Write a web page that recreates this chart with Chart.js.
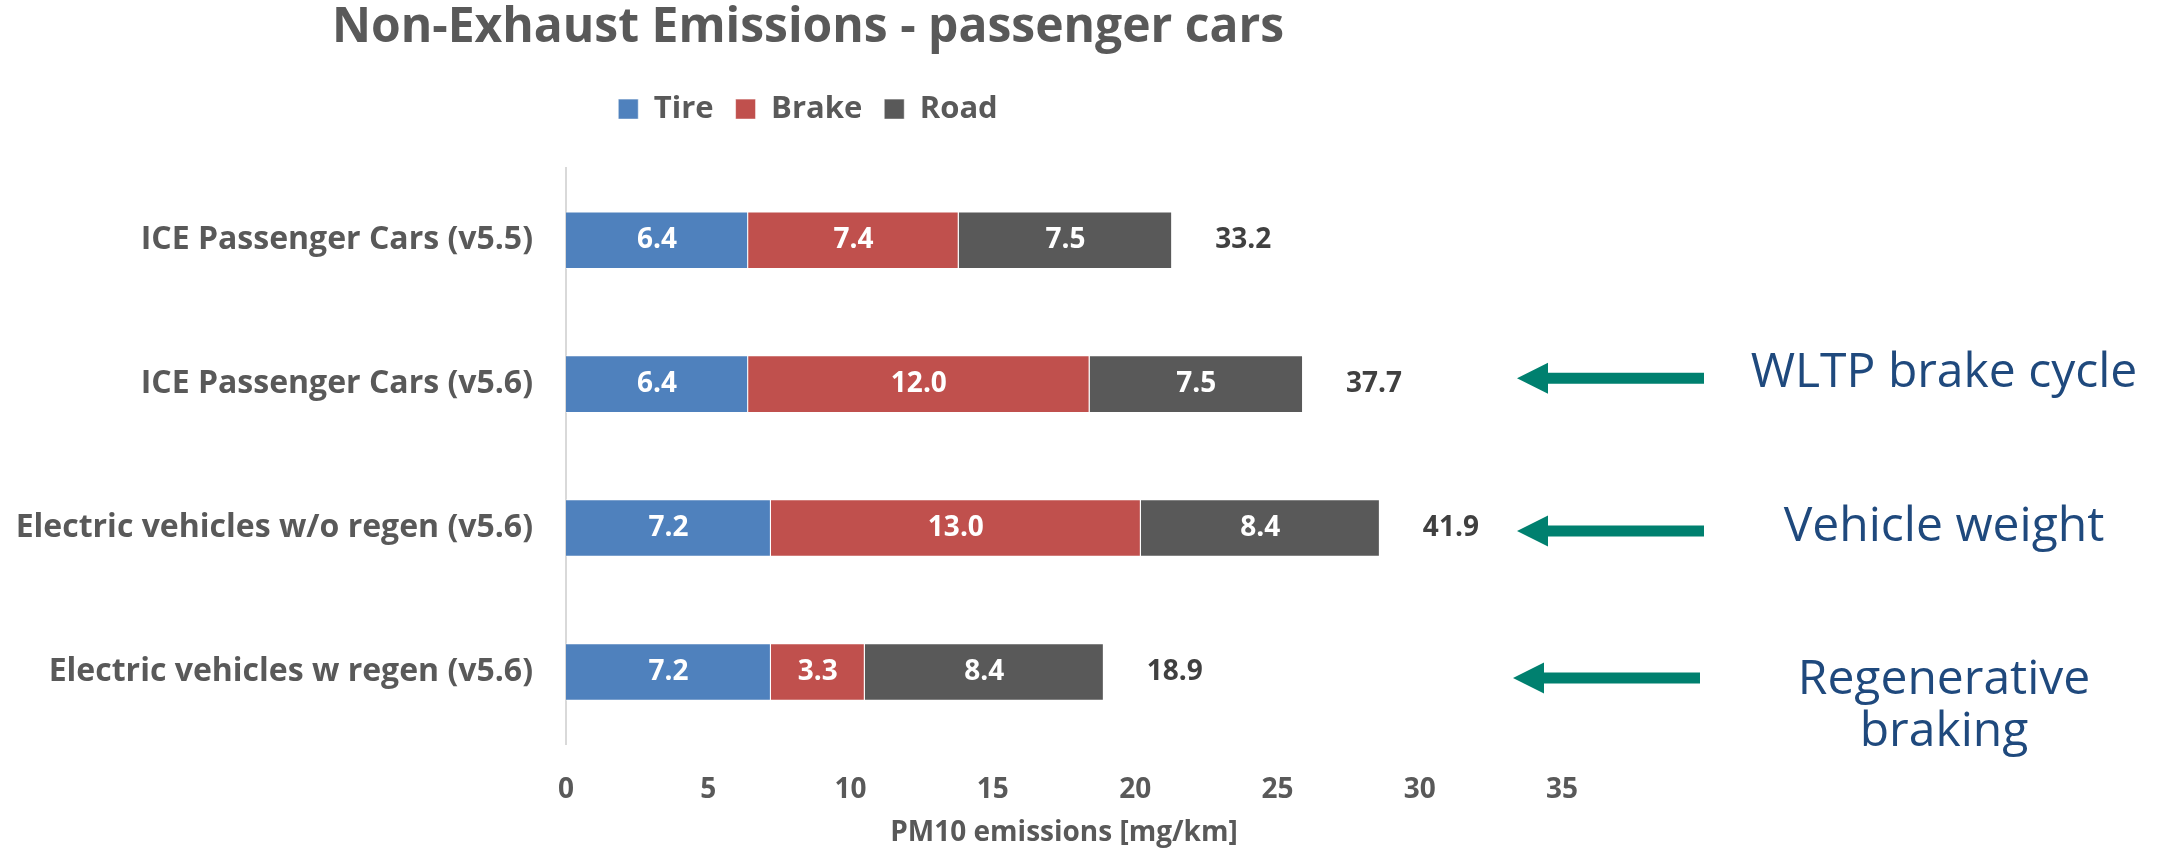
<!DOCTYPE html>
<html>
<head>
<meta charset="utf-8">
<title>Non-Exhaust Emissions - passenger cars</title>
<script src="https://cdn.jsdelivr.net/npm/chart.js@4.4.1/dist/chart.umd.min.js"></script>
<style>
  html, body { margin: 0; padding: 0; background: #ffffff; }
  #wrap { width: 2160px; height: 850px; position: relative; }
</style>
</head>
<body>
<div id="wrap"><canvas id="chart"></canvas></div>
<script>
// Vehicle groups (rows of the chart, top to bottom)
const categories = [
  'ICE Passenger Cars (v5.5)',
  'ICE Passenger Cars (v5.6)',
  'Electric vehicles w/o regen (v5.6)',
  'Electric vehicles w regen (v5.6)'
];

// PM10 emissions per source [mg/km]
const tire  = [6.4, 6.4, 7.2, 7.2];
const brake = [7.4, 12.0, 13.0, 3.3];
const road  = [7.5, 7.5, 8.4, 8.4];

// Totals printed to the right of each bar
const totalLabels = ['33.2', '37.7', '41.9', '18.9'];

// X axis tick values
const xTicks = [0, 5, 10, 15, 20, 25, 30, 35];

// Explanatory notes pointing at rows
const noteRows  = [1, 2, 3];
const noteTexts = [['WLTP brake cycle'], ['Vehicle weight'], ['Regenerative', 'braking']];

const FONT = "'Open Sans', sans-serif";
const GREY = '#595959';

// Value labels inside each segment and totals after each bar
const valueLabels = {
  id: 'valueLabels',
  afterDatasetsDraw(chart) {
    const ctx = chart.ctx;
    ctx.save();
    ctx.font = "bold 28px " + FONT;
    ctx.textBaseline = 'middle';
    ctx.textAlign = 'center';
    ctx.fillStyle = '#ffffff';
    chart.data.datasets.forEach((ds, di) => {
      chart.getDatasetMeta(di).data.forEach((bar, i) => {
        ctx.fillText(ds.data[i].toFixed(1), (bar.x + bar.base) / 2, bar.y);
      });
    });
    const last = chart.getDatasetMeta(chart.data.datasets.length - 1);
    ctx.fillStyle = '#404040';
    ctx.textAlign = 'left';
    last.data.forEach((bar, i) => {
      ctx.fillText(totalLabels[i], bar.x + 43, bar.y);
    });
    ctx.restore();
  }
};

// Arrows and notes on the right-hand side
const sideNotes = {
  id: 'sideNotes',
  afterDraw(chart) {
    const { ctx, chartArea, scales } = chart;
    const arrowDy = [-6, 3, 6];
    const arrowDx = [0, 0, -4];
    const textDy = [-11, -1, 8];
    ctx.save();
    noteRows.forEach((row, k) => {
      const yc = scales.y.getPixelForValue(row);
      const ay = yc + arrowDy[k];
      const tip = chartArea.right - 45 + arrowDx[k];
      const headLen = 31, headHalf = 15.5, shaftHalf = 5.5, len = 187;
      ctx.fillStyle = '#00806F';
      ctx.beginPath();
      ctx.moveTo(tip, ay);
      ctx.lineTo(tip + headLen, ay - headHalf);
      ctx.lineTo(tip + headLen, ay - shaftHalf);
      ctx.lineTo(tip + len, ay - shaftHalf);
      ctx.lineTo(tip + len, ay + shaftHalf);
      ctx.lineTo(tip + headLen, ay + shaftHalf);
      ctx.lineTo(tip + headLen, ay + headHalf);
      ctx.closePath();
      ctx.fill();

      ctx.fillStyle = '#1F497D';
      ctx.font = "48px " + FONT;
      ctx.textAlign = 'center';
      ctx.textBaseline = 'middle';
      noteTexts[k].forEach((line, j) => {
        ctx.fillText(line, chartArea.right + 382, yc + textDy[k] + j * 52);
      });
    });
    ctx.restore();
  }
};

// Extra space between the legend and the plot
const legendGap = {
  id: 'legendGap',
  beforeLayout(chart) {
    const lg = chart.legend;
    if (lg && !lg.__gapAdded) {
      const fit = lg.fit;
      lg.fit = function () { fit.call(this); this.height += 33.6; };
      lg.__gapAdded = true;
    }
  }
};

Chart.defaults.font.family = FONT;
Chart.defaults.color = GREY;

const segStyle = { borderColor: 'rgba(255,255,255,0.55)', borderWidth: 1, barPercentage: 0.4, categoryPercentage: 1.0 };

new Chart(document.getElementById('chart'), {
  type: 'bar',
  data: {
    labels: categories,
    datasets: [
      Object.assign({ label: 'Tire',  data: tire,  backgroundColor: '#4F81BD' }, segStyle),
      Object.assign({ label: 'Brake', data: brake, backgroundColor: '#C0504D' }, segStyle),
      Object.assign({ label: 'Road',  data: road,  backgroundColor: '#595959' }, segStyle)
    ]
  },
  options: {
    indexAxis: 'y',
    responsive: true,
    maintainAspectRatio: false,
    animation: false,
    layout: { padding: { left: 54, right: 598, top: 0, bottom: 0 } },
    plugins: {
      title: {
        display: true,
        text: 'Non-Exhaust Emissions - passenger cars',
        color: GREY,
        font: { size: 48, weight: 'bold' },
        padding: { top: 0, bottom: 14 }
      },
      legend: {
        display: true,
        position: 'top',
        labels: {
          color: GREY,
          font: { size: 31, weight: 'bold' },
          boxWidth: 20,
          boxHeight: 20,
          padding: 22
        }
      },
      tooltip: { enabled: false }
    },
    scales: {
      x: {
        stacked: true,
        min: 0,
        max: 35,
        afterBuildTicks(scale) { scale.ticks = xTicks.map(v => ({ value: v })); },
        afterFit(scale) { scale.height = 106; },
        grid: { display: false, drawTicks: false },
        border: { display: false },
        ticks: { color: GREY, font: { size: 28, weight: 'bold' }, padding: 29 },
        title: {
          display: true,
          text: 'PM10 emissions [mg/km]',
          color: GREY,
          font: { size: 28, weight: 'bold' },
          padding: { top: 0, bottom: 0 }
        }
      },
      y: {
        stacked: true,
        afterFit(scale) {
          scale.width = 512;
          // long row labels may run past the axis box into the left margin
          scale._computeLabelArea = () => null;
        },
        grid: { display: false, drawTicks: false },
        border: { display: true, color: '#D9D9D9', width: 2 },
        ticks: { color: GREY, font: { size: 32, weight: 'bold' }, padding: 33 }
      }
    }
  },
  plugins: [legendGap, valueLabels, sideNotes]
});
</script>
</body>
</html>
